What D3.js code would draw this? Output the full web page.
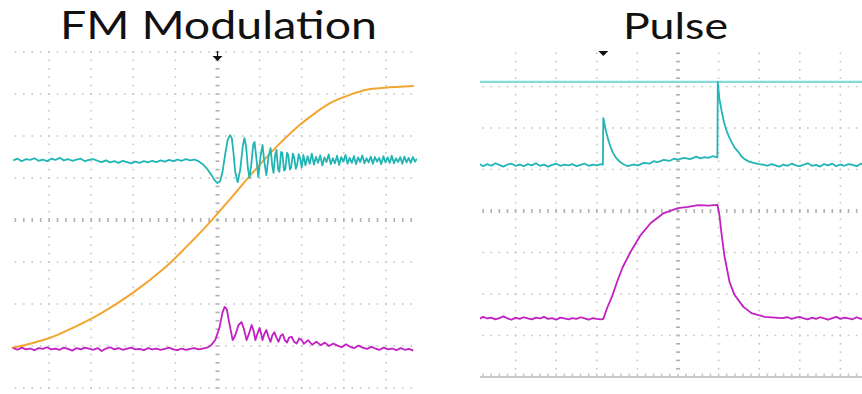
<!DOCTYPE html>
<html>
<head>
<meta charset="utf-8">
<script src="https://cdn.jsdelivr.net/npm/d3@7"></script>
<style>
  body { margin: 0; background: #fff; }
  svg { display: block; }
</style>
</head>
<body>
<div id="chart"></div>
<script>
// ---- Data (x, y in scope divisions; 0,0 = screen centre) ----

// FM Modulation panel
const fmTitle = "FM Modulation";
const fmTrigger = 0;

// cyan: quiet baseline sampled every 0.1 div from -4.85
const fmCyanPreStart = -4.85;
const fmCyanPre = [1.42,1.46,1.40,1.45,1.43,1.47,1.41,1.44,1.40,1.46,1.43,1.48,1.42,1.45,1.41,1.44,1.46,1.40,1.43,1.45,1.41,1.38,1.42,1.37,1.40,1.36,1.41,1.38,1.35,1.39,1.36,1.40,1.37,1.41,1.38,1.42,1.39,1.43,1.40,1.44,1.41,1.45,1.42,1.44];
// cyan: dip and ringing after the step
const fmCyanRing = [[-0.45,1.40],[-0.35,1.33],[-0.25,1.22],[-0.15,1.08],[-0.07,0.95],[0.0,0.88],[0.06,0.92],[0.12,1.15],[0.18,1.55],[0.24,1.90],[0.30,2.02],[0.34,1.95],[0.38,1.60],[0.42,1.15],[0.48,0.90],[0.54,1.20],[0.60,1.75],[0.64,1.95],[0.68,1.75],[0.72,1.25],[0.76,1.00],[0.80,1.30],[0.85,1.80],[0.88,1.86],[0.92,1.50],[0.97,1.02],[1.02,1.50],[1.07,1.79],[1.11,1.40],[1.16,1.07],[1.21,1.50],[1.26,1.71],[1.30,1.30],[1.33,1.12],[1.37,1.55],[1.40,1.67],[1.44,1.20],[1.47,1.15],[1.51,1.62],[1.54,1.60],[1.58,1.18],[1.61,1.20],[1.65,1.60],[1.68,1.55],[1.72,1.20],[1.75,1.25],[1.79,1.58],[1.82,1.50],[1.86,1.22],[1.89,1.30],[1.93,1.57],[1.96,1.48],[2.00,1.25]];
// cyan: noisy tail sampled every 0.05 div from 2.04
const fmCyanTailStart = 2.04;
const fmCyanTail = [1.55,1.30,1.52,1.34,1.58,1.32,1.50,1.36,1.54,1.30,1.49,1.38,1.56,1.33,1.47,1.35,1.53,1.31,1.50,1.39,1.55,1.34,1.48,1.36,1.52,1.33,1.49,1.38,1.54,1.35,1.47,1.37,1.51,1.34,1.50,1.39,1.48,1.33,1.52,1.37,1.49,1.36,1.53,1.35,1.47,1.38,1.50,1.34,1.51,1.37,1.48,1.36,1.50,1.39,1.46];

// orange: frequency ramp
const fmOrange = [[-4.89,-3.05],[-4.39,-2.93],[-3.99,-2.81],[-3.59,-2.64],[-2.80,-2.24],[-2.02,-1.74],[-1.21,-1.10],[-0.74,-0.64],[-0.26,-0.14],[0.36,0.57],[0.83,1.12],[1.40,1.74],[1.95,2.26],[2.35,2.57],[2.73,2.81],[3.14,2.98],[3.54,3.10],[3.97,3.15],[4.66,3.19]];

// magenta: baseline every 0.1 div from -4.85
const fmMagPreStart = -4.85;
const fmMagPre = [-3.05,-3.09,-3.04,-3.08,-3.06,-3.10,-3.05,-3.07,-3.03,-3.08,-3.06,-3.09,-3.04,-3.07,-3.11,-3.05,-3.08,-3.04,-3.06,-3.09,-3.05,-3.12,-3.06,-3.03,-3.08,-3.05,-3.09,-3.06,-3.04,-3.08,-3.07,-3.10,-3.05,-3.08,-3.06,-3.09,-3.07,-3.04,-3.08,-3.10,-3.06,-3.09,-3.07,-3.05,-3.08,-3.06];
const fmMagBurst = [[-0.25,-3.04],[-0.15,-2.98],[-0.05,-2.85],[0.05,-2.55],[0.12,-2.20],[0.17,-2.07],[0.22,-2.12],[0.28,-2.45],[0.36,-2.86],[0.42,-2.75],[0.50,-2.50],[0.57,-2.43],[0.63,-2.60],[0.69,-2.86],[0.75,-2.70],[0.81,-2.50],[0.86,-2.65],[0.90,-2.86],[0.95,-2.70],[1.00,-2.57],[1.04,-2.72],[1.07,-2.86],[1.11,-2.72],[1.16,-2.62],[1.21,-2.78],[1.26,-2.90],[1.30,-2.75],[1.35,-2.67],[1.40,-2.80],[1.45,-2.90],[1.50,-2.76],[1.55,-2.72],[1.60,-2.86],[1.65,-2.92],[1.70,-2.80],[1.76,-2.78],[1.82,-2.90],[1.88,-2.94],[1.94,-2.82],[2.00,-2.86]];
const fmMagTailStart = 2.05;
const fmMagTail = [-2.95,-2.86,-2.97,-2.90,-2.98,-2.92,-3.00,-2.94,-2.99,-3.03,-2.96,-3.02,-3.05,-2.99,-3.04,-3.07,-3.02,-3.06,-3.09,-3.04,-3.08,-3.06,-3.10,-3.05,-3.09,-3.07,-3.11];

// Pulse panel
const pulseTitle = "Pulse";
const pulseTrigger = -1.84;
const pulseRefLevel = 3.11;

const pCyanPreStart = -5.0;
const pCyanPre = [1.10,1.14,1.08,1.13,1.09,1.15,1.11,1.07,1.12,1.14,1.09,1.12,1.08,1.13,1.10,1.15,1.09,1.12,1.07,1.11,1.14,1.09,1.12,1.10,1.13,1.08,1.11,1.14,1.09,1.12,1.10,1.13];
const pCyanEdges = [[-1.85,1.12],[-1.84,2.24],[-1.78,1.95],[-1.72,1.72],[-1.66,1.54],[-1.60,1.40],[-1.54,1.30],[-1.45,1.20],[-1.36,1.14],[-1.24,1.08],[-1.10,1.12],[-0.98,1.10],[-0.84,1.16],[-0.70,1.14],[-0.60,1.20],[-0.50,1.18],[-0.35,1.23],[-0.20,1.21],[-0.10,1.26],[0.00,1.24],[0.15,1.28],[0.30,1.25],[0.45,1.31],[0.55,1.27],[0.65,1.30],[0.75,1.28],[0.85,1.32],[0.97,1.29],[0.98,3.11],[1.02,2.70],[1.07,2.43],[1.13,2.15],[1.19,1.95],[1.26,1.78],[1.32,1.66],[1.40,1.52],[1.49,1.42],[1.56,1.32],[1.64,1.25],[1.75,1.19],[1.86,1.16],[2.00,1.13],[2.13,1.11]];
const pCyanTailStart = 2.2;
const pCyanTail = [1.09,1.13,1.10,1.07,1.12,1.09,1.14,1.10,1.08,1.12,1.15,1.09,1.11,1.07,1.13,1.10,1.14,1.08,1.12,1.09,1.13,1.11,1.08,1.14,1.10,1.12,1.09,1.13,1.11];

const pMagPreStart = -5.0;
const pMagPre = [-2.56,-2.60,-2.55,-2.59,-2.57,-2.61,-2.58,-2.54,-2.59,-2.62,-2.57,-2.60,-2.56,-2.59,-2.61,-2.57,-2.59,-2.55,-2.60,-2.58,-2.62,-2.57,-2.59,-2.61,-2.58,-2.60,-2.56,-2.59,-2.62,-2.58,-2.60,-2.61];
const pMagPulse = [[-1.84,-2.60],[-1.75,-2.35],[-1.61,-2.02],[-1.48,-1.65],[-1.36,-1.35],[-1.17,-0.99],[-0.92,-0.58],[-0.67,-0.29],[-0.35,-0.05],[0.00,0.07],[0.25,0.10],[0.50,0.14],[0.75,0.13],[0.97,0.15],[1.02,-0.10],[1.06,-0.45],[1.14,-1.06],[1.27,-1.71],[1.39,-2.02],[1.61,-2.31],[1.81,-2.46],[2.13,-2.55],[2.56,-2.58]];
const pMagTailStart = 2.7;
const pMagTail = [-2.56,-2.60,-2.57,-2.55,-2.59,-2.61,-2.57,-2.60,-2.56,-2.59,-2.62,-2.58,-2.55,-2.60,-2.57,-2.59,-2.61,-2.56,-2.60,-2.58,-2.62,-2.57,-2.59,-2.60];

// trace colours
const CYAN = "#22b5b5";
const CYAN_REF = "#86d9d9";
const ORANGE = "#f2a531";
const MAGENTA = "#c21fc4";
const GRID = "#c6c6c6";

// ---- helpers ----
function sampled(start, step, values) {
  return values.map((v, i) => [start + i * step, v]);
}

function drawGrid(g, x, y, opts) {
  const cols = d3.range(-4, 5);
  const rows = d3.range(-4, 5);
  const [yLo, yHi] = y.domain();
  const minor = d3.range(yLo, yHi + 0.001, 0.2);
  const minorX = d3.range(-5, 5.001, 0.2);

  cols.forEach(c => {
    const centre = c === 0;
    g.append("g").selectAll("rect")
      .data(minor)
      .join("rect")
      .attr("x", x(c) - (centre ? 2 : 0.8))
      .attr("y", d => y(d) - 0.8)
      .attr("width", centre ? 4 : 1.6)
      .attr("height", 1.6)
      .attr("fill", centre ? "#b0b0b0" : GRID);
  });
  rows.forEach(r => {
    if (opts.solidBottom && r === -4) return;
    const centre = r === 0;
    g.append("g").selectAll("rect")
      .data(minorX)
      .join("rect")
      .attr("x", d => x(d) - 0.8)
      .attr("y", y(r) - (centre ? 2 : 0.8))
      .attr("width", 1.6)
      .attr("height", centre ? 4 : 1.6)
      .attr("fill", centre ? "#b0b0b0" : GRID);
  });
  if (opts.solidBottom) {
    g.append("line")
      .attr("x1", x(-5)).attr("x2", x(5))
      .attr("y1", y(-4)).attr("y2", y(-4))
      .attr("stroke", "#c8c8c8").attr("stroke-width", 2);
    g.append("g").selectAll("rect")
      .data(minorX)
      .join("rect")
      .attr("x", d => x(d) - 0.8)
      .attr("y", y(-4) - 3.5)
      .attr("width", 1.6)
      .attr("height", 3)
      .attr("fill", "#c8c8c8");
  }
}

function drawTrace(g, x, y, pts, color, width, curve) {
  const line = d3.line()
    .x(d => x(d[0]))
    .y(d => y(d[1]))
    .curve(curve || d3.curveLinear);
  g.append("path")
    .datum(pts)
    .attr("d", line)
    .attr("fill", "none")
    .attr("stroke", color)
    .attr("stroke-width", width)
    .attr("stroke-linejoin", "round");
}

function drawTrigger(svg, x, t, top) {
  const px = x(t);
  svg.append("path")
    .attr("d", `M${px - 5},${top} L${px + 5},${top} L${px},${top + 5} Z`)
    .attr("fill", "#111");
}

function drawTitle(svg, label, cx, baseline, size, width) {
  const t = svg.append("text")
    .attr("x", cx)
    .attr("y", baseline)
    .attr("text-anchor", "middle")
    .attr("font-family", "Lato, 'Open Sans', sans-serif")
    .attr("font-size", size)
    .attr("fill", "#111")
    .text(label);
  // stretch to the width measured on the reference
  t.attr("textLength", width).attr("lengthAdjust", "spacingAndGlyphs");
}

// ---- chart ----
const W = 862, H = 394;
const svg = d3.select("#chart").append("svg")
  .attr("width", W)
  .attr("height", H);

const defs = svg.append("defs");
defs.append("clipPath").attr("id", "clipL")
  .append("rect").attr("x", 11).attr("y", 48).attr("width", 406).attr("height", 345);
defs.append("clipPath").attr("id", "clipR")
  .append("rect").attr("x", 480).attr("y", 50).attr("width", 382).attr("height", 332);

// left panel scales
const xL = d3.scaleLinear().domain([-5, 5]).range([7, 428]);
const yL = d3.scaleLinear().domain([-4, 4]).range([388, 52]);
// right panel scales
const xR = d3.scaleLinear().domain([-5, 5]).range([475, 881]);
const yR = d3.scaleLinear().domain([-4, 4]).range([377, 45]);

// left panel
const gL = svg.append("g").attr("clip-path", "url(#clipL)");
drawGrid(gL, xL, yL, {solidBottom: false});
drawTrace(gL, xL, yL, fmOrange, ORANGE, 2, d3.curveCatmullRom);
drawTrace(gL, xL, yL,
  sampled(fmCyanPreStart, 0.1, fmCyanPre).concat(fmCyanRing, sampled(fmCyanTailStart, 0.05, fmCyanTail)),
  CYAN, 1.8);
drawTrace(gL, xL, yL,
  sampled(fmMagPreStart, 0.1, fmMagPre).concat(fmMagBurst, sampled(fmMagTailStart, 0.1, fmMagTail)),
  MAGENTA, 1.8);
drawTrigger(svg, xL, fmTrigger, 56);
svg.append("line")
  .attr("x1", xL(fmTrigger)).attr("x2", xL(fmTrigger))
  .attr("y1", 51).attr("y2", 57)
  .attr("stroke", "#111").attr("stroke-width", 1.2);

// right panel
const gR = svg.append("g").attr("clip-path", "url(#clipR)");
drawGrid(gR, xR, yR, {solidBottom: true});
drawTrace(gR, xR, yR, [[-5, pulseRefLevel], [5, pulseRefLevel]], CYAN_REF, 2.2);
drawTrace(gR, xR, yR,
  sampled(pCyanPreStart, 0.1, pCyanPre).concat(pCyanEdges, sampled(pCyanTailStart, 0.1, pCyanTail)),
  CYAN, 1.8);
drawTrace(gR, xR, yR,
  sampled(pMagPreStart, 0.1, pMagPre).concat(pMagPulse, sampled(pMagTailStart, 0.1, pMagTail)),
  MAGENTA, 1.8);
drawTrigger(svg, xR, pulseTrigger, 51);

// titles
drawTitle(svg, fmTitle, 218.5, 38.5, 38, 317);
drawTitle(svg, pulseTitle, 675.5, 39, 37, 105);
</script>
</body>
</html>
